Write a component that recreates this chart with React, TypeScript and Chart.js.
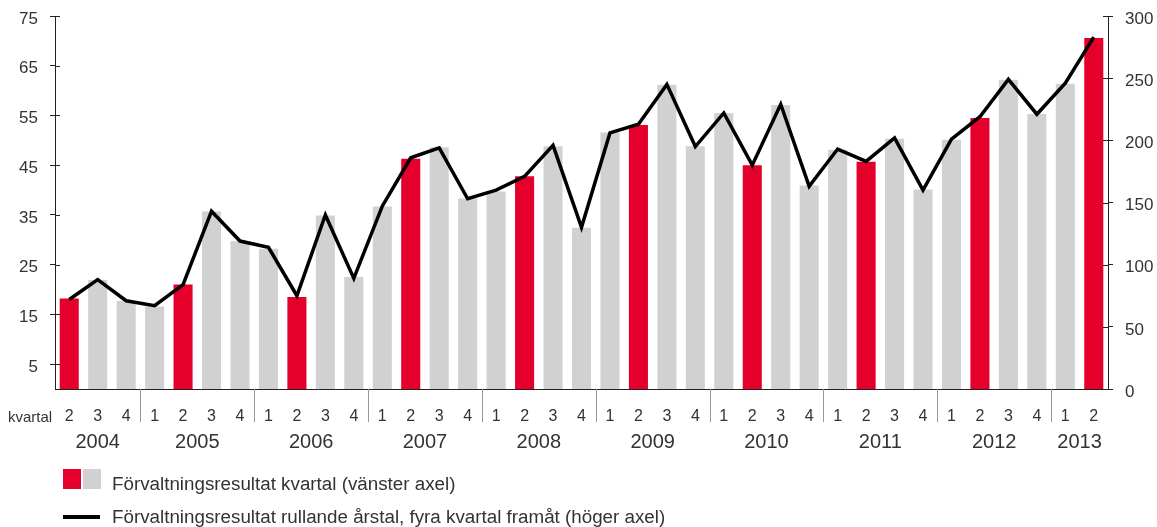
import React, { useEffect, useRef } from "react";
import { Chart, registerables } from "chart.js";

Chart.register(...registerables);

// ---- data ----
const years = ["2004", "2005", "2006", "2007", "2008", "2009", "2010", "2011", "2012", "2013"];
const quarterLabels = [
  "2", "3", "4",
  "1", "2", "3", "4",
  "1", "2", "3", "4",
  "1", "2", "3", "4",
  "1", "2", "3", "4",
  "1", "2", "3", "4",
  "1", "2", "3", "4",
  "1", "2", "3", "4",
  "1", "2", "3", "4",
  "1", "2",
];
// Förvaltningsresultat kvartal (vänster axel)
const quarterlyResult = [
  18.2, 21.9, 17.7,
  16.6, 21.0, 35.7, 29.7,
  28.2, 18.5, 34.9, 22.5,
  36.7, 46.3, 48.6, 38.3,
  39.7, 42.8, 48.8, 32.4,
  51.6, 53.1, 61.2, 48.8,
  55.5, 45.0, 57.1, 40.9,
  48.1, 45.7, 50.3, 40.1,
  50.1, 54.5, 62.2, 55.3,
  61.4, 70.6,
];
// Förvaltningsresultat rullande årstal, fyra kvartal framåt (höger axel)
const rollingResult = [
  72, 88, 71,
  67, 84, 143, 119,
  114, 75, 140, 89,
  147, 186, 194, 153,
  160, 171, 196, 130,
  206, 213, 245, 195,
  222, 180, 229, 163,
  193, 183, 202, 160,
  201, 219, 249, 221,
  246, 283,
];
const leftTicks = [5, 15, 25, 35, 45, 55, 65, 75];
const rightTicks = [0, 50, 100, 150, 200, 250, 300];

const legendBarLabel = "Förvaltningsresultat kvartal (vänster axel)";
const legendLineLabel = "Förvaltningsresultat rullande årstal, fyra kvartal framåt (höger axel)";

const RED = "#E4002B";
const GREY = "#D0D1D0";
const TEXT = "#333333";
const AXIS = "#222222";
const FONT = "'Liberation Sans', Arial, sans-serif";

const overlayPlugin = {
  id: "overlay",
  afterDraw(chart: any) {
    const ctx = chart.ctx as CanvasRenderingContext2D;
    const xs = chart.scales.x;
    const yl = chart.scales.y;
    const yr = chart.scales.y1;
    const area = chart.chartArea;
    ctx.save();

    // inward tick marks
    ctx.strokeStyle = AXIS;
    ctx.lineWidth = 1;
    ctx.beginPath();
    leftTicks.forEach((v) => {
      const py = Math.round(yl.getPixelForValue(v)) + 0.5;
      ctx.moveTo(area.left, py);
      ctx.lineTo(area.left + 5, py);
    });
    rightTicks.forEach((v) => {
      const py = Math.round(yr.getPixelForValue(v)) + 0.5;
      ctx.moveTo(area.right - 5, py);
      ctx.lineTo(area.right, py);
    });
    ctx.stroke();

    // year separators and year labels
    const groups: { start: number; end: number }[] = [];
    quarterLabels.forEach((q, i) => {
      if (i === 0 || q === "1") groups.push({ start: i, end: i });
      else groups[groups.length - 1].end = i;
    });
    ctx.strokeStyle = "#999999";
    ctx.beginPath();
    groups.forEach((g) => {
      if (g.start === 0) return;
      const sx = Math.round((xs.getPixelForValue(g.start - 1) + xs.getPixelForValue(g.start)) / 2) + 0.5;
      ctx.moveTo(sx, area.bottom);
      ctx.lineTo(sx, area.bottom + 33);
    });
    ctx.stroke();

    ctx.fillStyle = TEXT;
    ctx.textBaseline = "alphabetic";
    ctx.textAlign = "center";
    ctx.font = `20px ${FONT}`;
    groups.forEach((g, i) => {
      const cx = (xs.getPixelForValue(g.start) + xs.getPixelForValue(g.end)) / 2;
      ctx.fillText(years[i], cx, 448);
    });

    // "kvartal"
    ctx.textAlign = "left";
    ctx.font = `15px ${FONT}`;
    ctx.fillText("kvartal", 8, 422);

    // legend
    ctx.fillStyle = RED;
    ctx.fillRect(63, 469, 18, 20);
    ctx.fillStyle = GREY;
    ctx.fillRect(83, 469, 18, 20);
    ctx.strokeStyle = "#000000";
    ctx.lineWidth = 4;
    ctx.beginPath();
    ctx.moveTo(63, 517);
    ctx.lineTo(100, 517);
    ctx.stroke();
    ctx.fillStyle = TEXT;
    ctx.font = `18.8px ${FONT}`;
    ctx.fillText(legendBarLabel, 112, 490);
    ctx.fillText(legendLineLabel, 112, 523);

    ctx.restore();
  },
};

function fixVertical(width: number) {
  return (scale: any) => {
    scale.width = width;
    scale.paddingTop = 0;
    scale.paddingBottom = 0;
  };
}

export default function App() {
  const canvasRef = useRef<HTMLCanvasElement | null>(null);

  useEffect(() => {
    document.body.style.margin = "0";
    const canvas = canvasRef.current;
    if (!canvas) return;
    const chart = new Chart(canvas, {
      type: "bar",
      data: {
        labels: quarterLabels,
        datasets: [
          {
            type: "line",
            label: legendLineLabel,
            data: rollingResult,
            yAxisID: "y1",
            borderColor: "#000000",
            borderWidth: 3.5,
            borderJoinStyle: "miter",
            pointRadius: 0,
            tension: 0,
            fill: false,
            order: 0,
          } as any,
          {
            type: "bar",
            label: legendBarLabel,
            data: quarterlyResult,
            yAxisID: "y",
            backgroundColor: quarterLabels.map((q) => (q === "2" ? RED : GREY)),
            barPercentage: 0.67,
            categoryPercentage: 1,
            order: 1,
          },
        ],
      },
      options: {
        responsive: false,
        animation: false,
        layout: { padding: { top: 16, left: 0, right: 0, bottom: 0 } },
        plugins: {
          legend: { display: false },
          tooltip: { enabled: false },
          title: { display: false },
        },
        scales: {
          x: {
            type: "category",
            offset: true,
            grid: { display: false, drawTicks: false },
            border: { display: true, color: AXIS, width: 1 },
            ticks: {
              autoSkip: false,
              maxRotation: 0,
              minRotation: 0,
              padding: 18,
              color: TEXT,
              font: { family: FONT, size: 16 },
            },
            afterFit(scale: any) {
              scale.height = 138;
              scale.paddingLeft = 0;
              scale.paddingRight = 0;
            },
          },
          y: {
            type: "linear",
            position: "left",
            min: 0,
            max: 75,
            grid: { display: true, drawOnChartArea: false, drawTicks: true, tickLength: 5, color: AXIS },
            border: { display: true, color: AXIS, width: 1 },
            ticks: {
              padding: 12,
              labelOffset: 3,
              color: TEXT,
              font: { family: FONT, size: 17 },
            },
            afterBuildTicks(scale: any) {
              scale.ticks = leftTicks.map((v) => ({ value: v }));
            },
            afterFit: fixVertical(55),
          },
          y1: {
            type: "linear",
            position: "right",
            min: 0,
            max: 300,
            grid: { display: true, drawOnChartArea: false, drawTicks: true, tickLength: 5, color: AXIS },
            border: { display: true, color: AXIS, width: 1 },
            ticks: {
              padding: 12,
              labelOffset: 3,
              color: TEXT,
              font: { family: FONT, size: 17 },
            },
            afterBuildTicks(scale: any) {
              scale.ticks = rightTicks.map((v) => ({ value: v }));
            },
            afterFit: fixVertical(49),
          },
        },
      },
      plugins: [overlayPlugin],
    });
    return () => chart.destroy();
  }, []);

  return (
    <div style={{ position: "absolute", left: 0, top: 0, width: 1157, height: 527 }}>
      <canvas ref={canvasRef} width={1157} height={527} style={{ display: "block" }} />
    </div>
  );
}
